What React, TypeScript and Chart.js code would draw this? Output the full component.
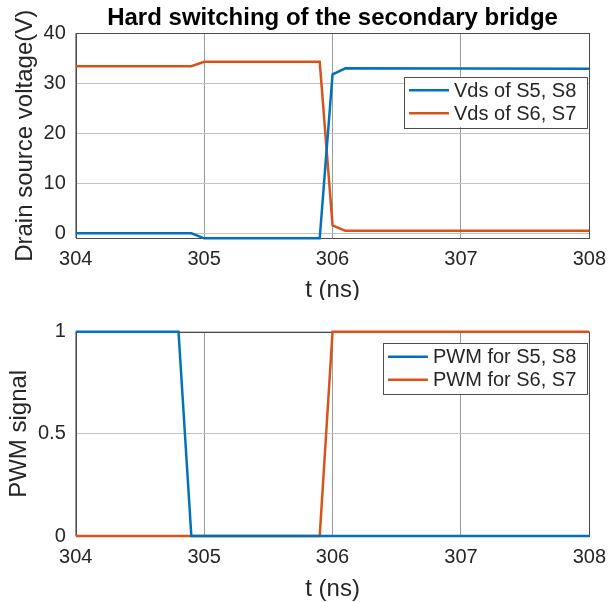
import React, { useEffect, useRef } from 'react';
import { Chart, registerables } from 'chart.js';

Chart.register(...registerables);

// ---------- data ----------
const tVds = [304, 304.9, 305, 305.9, 306, 306.1, 308];
const vdsS5S8 = [0, 0, -1, -1, 31.8, 33.0, 32.9];
const vdsS6S7 = [33.4, 33.4, 34.3, 34.3, 1.6, 0.5, 0.5];

const tPwmS5S8 = [304, 304.8, 304.9, 308];
const pwmS5S8 = [1, 1, 0, 0];
const tPwmS6S7 = [304, 305.9, 306, 308];
const pwmS6S7 = [0, 0, 1, 1];

const xTicks = [304, 305, 306, 307, 308];
const vdsTicks = [0, 10, 20, 30, 40];
const pwmTicks = [0, 0.5, 1];

const vdsLabels = ['Vds of S5, S8', 'Vds of S6, S7'];
const pwmLabels = ['PWM for S5, S8', 'PWM for S6, S7'];

const TITLE = 'Hard switching of the secondary bridge';
const X_TITLE = 't (ns)';
const Y_TITLE_VDS = 'Drain source voltage(V)';
const Y_TITLE_PWM = 'PWM signal';

// ---------- style ----------
const BLUE = '#0072BD';
const ORANGE = '#D95319';
const FONT = "'Liberation Sans', Arial, Helvetica, sans-serif";
const TEXT = '#262626';
const GRID_X = '#9a9a9a';
const GRID_Y = '#c2c2c2';
const EDGE = '#4a4a4a';

Chart.defaults.font.family = FONT;

const pts = (xs: number[], ys: number[]) => xs.map((x, i) => ({ x, y: ys[i] }));

const boxPlugin = {
  id: 'axesBox',
  beforeDatasetsDraw(chart: any) {
    const { ctx, chartArea: a } = chart;
    ctx.save();
    ctx.strokeStyle = EDGE;
    ctx.lineWidth = 1;
    const l = Math.round(a.left) + 0.5;
    const t = Math.round(a.top) + 0.5;
    ctx.strokeRect(l, t, Math.round(a.right) - Math.round(a.left), Math.round(a.bottom) - Math.round(a.top));
    ctx.restore();
  },
};

const legendPlugin = {
  id: 'boxLegend',
  afterDatasetsDraw(chart: any, _args: any, opts: any) {
    const { ctx, chartArea: a } = chart;
    const ds = chart.data.datasets;
    ctx.save();
    ctx.font = `20px ${FONT}`;
    const tw = Math.max(...ds.map((d: any) => ctx.measureText(d.label).width));
    const w = 5 + 40 + 5 + tw + 11;
    const h = 50.5;
    const right = a.right - 2;
    const left = right - w;
    const top = a.top + opts.offsetTop;
    ctx.fillStyle = '#ffffff';
    ctx.fillRect(left, top, w, h);
    ctx.strokeStyle = '#4d4d4d';
    ctx.lineWidth = 1;
    ctx.strokeRect(Math.round(left) + 0.5, Math.round(top) + 0.5, Math.round(w), Math.round(h));
    ds.forEach((d: any, i: number) => {
      const y = top + 13.5 + i * 23;
      ctx.strokeStyle = d.borderColor;
      ctx.lineWidth = 2.5;
      ctx.beginPath();
      ctx.moveTo(left + 5, y);
      ctx.lineTo(left + 45, y);
      ctx.stroke();
      ctx.fillStyle = TEXT;
      ctx.textBaseline = 'middle';
      ctx.textAlign = 'left';
      ctx.fillText(d.label, left + 50, y + 1);
    });
    ctx.restore();
  },
};

const yTitlePlugin = {
  id: 'yTitle',
  afterDraw(chart: any, _args: any, opts: any) {
    const { ctx, chartArea: a } = chart;
    ctx.save();
    ctx.font = `24px ${FONT}`;
    ctx.fillStyle = TEXT;
    ctx.textAlign = 'center';
    ctx.textBaseline = 'middle';
    ctx.translate(opts.x, (a.top + a.bottom) / 2);
    ctx.rotate(-Math.PI / 2);
    ctx.fillText(opts.text, 0, 0);
    ctx.restore();
  },
};

function makeConfig(p: {
  datasets: any[];
  yMin: number;
  yMax: number;
  yTicks: number[];
  yTitle: string;
  yTitleX: number;
  title?: string;
  xHeight: number;
  xTitlePad: number;
  padTop: number;
  legendTop: number;
}): any {
  return {
    type: 'line',
    data: { datasets: p.datasets },
    plugins: [boxPlugin, legendPlugin, yTitlePlugin],
    options: {
      animation: false,
      responsive: false,
      events: [],
      layout: { padding: { left: 0, right: 20, top: p.padTop, bottom: 0 } },
      plugins: {
        legend: { display: false },
        tooltip: { enabled: false },
        title: p.title
          ? {
              display: true,
              text: p.title,
              color: '#000',
              fullSize: false,
              font: { size: 24, weight: 'bold', family: FONT, lineHeight: 1.2 },
              padding: { top: 3.5, bottom: 1 },
            }
          : { display: false },
        boxLegend: { offsetTop: p.legendTop },
        yTitle: { text: p.yTitle, x: p.yTitleX },
      },
      elements: {
        point: { radius: 0 },
        line: { borderWidth: 2.5, tension: 0 },
      },
      scales: {
        x: {
          type: 'linear',
          min: xTicks[0],
          max: xTicks[xTicks.length - 1],
          afterBuildTicks: (s: any) => {
            s.ticks = xTicks.map((v) => ({ value: v }));
          },
          afterFit: (s: any) => {
            s.height = p.xHeight;
          },
          ticks: {
            color: TEXT,
            font: { size: 20, family: FONT },
            padding: 9,
            maxRotation: 0,
            autoSkip: false,
            callback: (v: any) => String(v),
          },
          grid: { color: GRID_X, lineWidth: 1, drawTicks: false },
          border: { display: false },
          title: {
            display: true,
            text: X_TITLE,
            color: TEXT,
            font: { size: 24, family: FONT, lineHeight: 1.2 },
            padding: { top: 0, bottom: p.xTitlePad },
          },
        },
        y: {
          type: 'linear',
          min: p.yMin,
          max: p.yMax,
          afterBuildTicks: (s: any) => {
            s.ticks = p.yTicks.map((v) => ({ value: v }));
          },
          afterFit: (s: any) => {
            s.width = 75.8;
          },
          ticks: {
            color: TEXT,
            font: { size: 20, family: FONT },
            padding: 10,
            autoSkip: false,
            callback: (v: any) => String(v),
          },
          grid: { color: GRID_Y, lineWidth: 1, drawTicks: false },
          border: { display: false },
        },
      },
    },
  };
}

export default function App() {
  const topRef = useRef<HTMLCanvasElement | null>(null);
  const botRef = useRef<HTMLCanvasElement | null>(null);

  useEffect(() => {
    const top = new Chart(
      topRef.current as HTMLCanvasElement,
      makeConfig({
        datasets: [
          { label: vdsLabels[0], data: pts(tVds, vdsS5S8), borderColor: BLUE, backgroundColor: BLUE, clip: 2 },
          { label: vdsLabels[1], data: pts(tVds, vdsS6S7), borderColor: ORANGE, backgroundColor: ORANGE, clip: 2 },
        ],
        yMin: -1,
        yMax: 40,
        yTicks: vdsTicks,
        yTitle: Y_TITLE_VDS,
        yTitleX: 25.5,
        title: TITLE,
        xHeight: 300 - 238.3,
        xTitlePad: -5,
        padTop: 0,
        legendTop: 43.4,
      })
    );
    const bot = new Chart(
      botRef.current as HTMLCanvasElement,
      makeConfig({
        datasets: [
          { label: pwmLabels[0], data: pts(tPwmS5S8, pwmS5S8), borderColor: BLUE, backgroundColor: BLUE, clip: 2 },
          { label: pwmLabels[1], data: pts(tPwmS6S7, pwmS6S7), borderColor: ORANGE, backgroundColor: ORANGE, clip: 2 },
        ],
        yMin: 0,
        yMax: 1,
        yTicks: pwmTicks,
        yTitle: Y_TITLE_PWM,
        yTitleX: 19.5,
        xHeight: 302 - 236,
        xTitlePad: -2,
        padTop: 31.7,
        legendTop: 11.6,
      })
    );
    return () => {
      top.destroy();
      bot.destroy();
    };
  }, []);

  return (
    <div style={{ position: 'absolute', left: 0, top: 0, width: 615, height: 602, background: '#fff' }}>
      <canvas ref={topRef} width={615} height={300} style={{ position: 'absolute', left: 0, top: 0 }} />
      <canvas ref={botRef} width={615} height={302} style={{ position: 'absolute', left: 0, top: 300 }} />
    </div>
  );
}
